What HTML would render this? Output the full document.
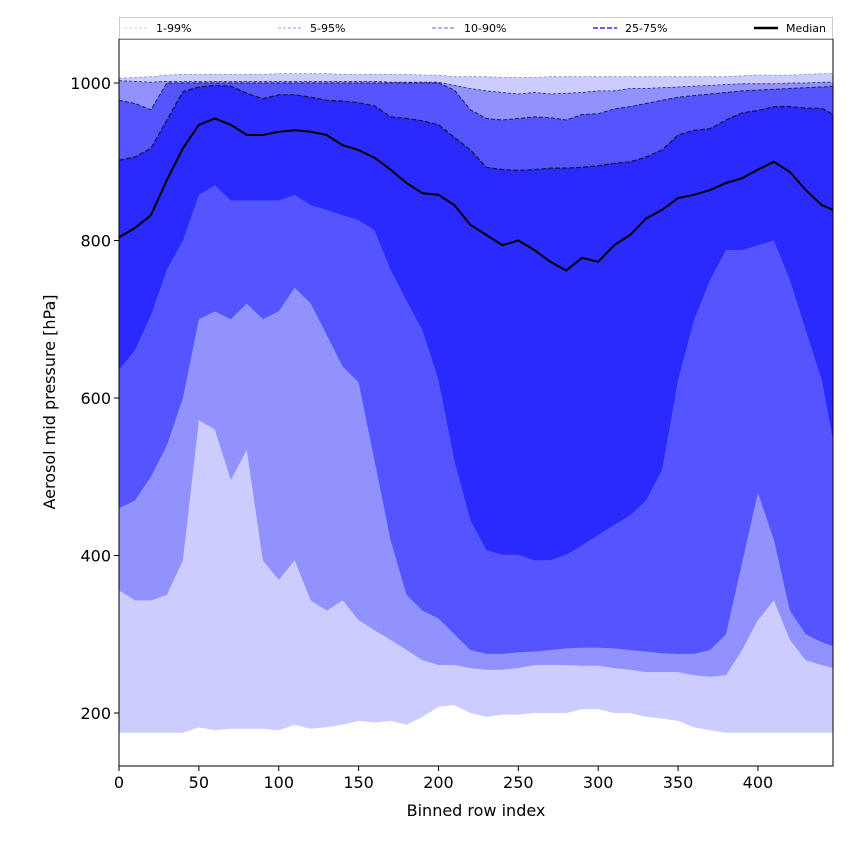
<!DOCTYPE html>
<html><head><meta charset="utf-8"><style>
html,body{margin:0;padding:0;background:#fff;}
svg{display:block;font-family:"DejaVu Sans","Liberation Sans",sans-serif;}
</style></head><body>
<svg id="chart" width="850" height="850" viewBox="0 0 850 850">
<rect width="850" height="850" fill="#fff"/>
<g id="plot"></g>
<g id="axes"></g>
</svg>
<script>
const xs = [0,10,20,30,40,50,60,70,80,90,100,110,120,130,140,150,160,170,180,190,200,210,220,230,240,250,260,270,280,290,300,310,320,330,340,350,360,370,380,390,400,410,420,430,440,447];
const p1 = [175,175,175,175,175,182,178,180,180,180,178,185,180,182,185,190,188,190,185,195,208,210,200,195,198,198,200,200,200,205,205,200,200,195,193,190,182,178,175,175,175,175,175,175,175,175];
const p5 = [356,343,343,350,394,572,560,496,534,394,369,394,343,330,343,318,305,293,280,267,261,261,257,255,255,257,261,261,261,260,260,257,255,252,252,252,248,246,248,280,318,343,293,267,261,257];
const p10 = [460,470,500,540,600,700,710,700,720,700,710,740,720,680,640,620,520,420,350,330,320,300,280,275,275,277,278,280,282,283,283,282,280,278,276,275,275,280,300,390,480,420,330,300,290,285];
const p25 = [636,661,705,763,800,858,870,851,851,851,851,858,845,839,832,826,813,763,724,686,623,521,445,407,401,401,394,394,401,413,426,439,451,470,509,623,699,750,788,788,794,800,750,686,623,547];
const median = [804,816,832,877,917,947,955,947,934,934,938,940,938,934,921,915,905,890,873,860,858,845,820,807,794,800,788,773,762,778,773,794,807,828,839,854,858,864,873,879,890,900,887,864,845,839];
const p75 = [902,906,917,953,989,995,997,996,987,980,985,985,982,978,977,975,971,957,955,952,947,931,915,893,890,889,890,892,892,893,895,898,900,906,915,934,940,942,953,962,965,970,970,968,968,960];
const p90 = [978,974,966,1000,1000,1000,1000,1000,1000,1000,1000,1000,1000,1000,1000,1000,1000,1000,1000,1000,1000,991,966,955,953,955,957,956,953,960,961,967,970,974,978,982,984,986,988,990,991,992,993,994,995,996];
const p95 = [1003,1002,1001,1002,1002,1002,1002,1002,1002,1002,1002,1002,1002,1002,1002,1002,1002,1001,1001,1001,1001,997,993,990,988,986,988,986,987,988,990,990,993,993,994,995,996,997,998,999,999,999,1000,1000,1001,1001];
const p99 = [1006,1007,1008,1010,1011,1011,1011,1011,1011,1011,1012,1012,1012,1012,1011,1011,1011,1011,1011,1010,1010,1008,1008,1008,1007,1007,1007,1008,1008,1008,1008,1008,1008,1008,1008,1008,1008,1008,1008,1009,1010,1010,1010,1011,1012,1012];
const xTicks = [0,50,100,150,200,250,300,350,400];
const yTicks = [200,400,600,800,1000];

const X0=119, X1=833, Y0=39, Y1=766;
const xMin=0, xMax=447, yMin=132.7, yMax=1055.9;
function sx(v){return X0+(v-xMin)/(xMax-xMin)*(X1-X0);}
function sy(v){return Y1-(v-yMin)/(yMax-yMin)*(Y1-Y0);}
const NS="http://www.w3.org/2000/svg";
const plot=document.getElementById('plot');
const axes=document.getElementById('axes');
function mk(tag,attrs,parent){const e=document.createElementNS(NS,tag);for(const k in attrs)e.setAttribute(k,attrs[k]);parent.appendChild(e);return e;}

const clip=mk('clipPath',{id:'clip'},plot);
mk('rect',{x:X0,y:Y0,width:X1-X0,height:Y1-Y0},clip);
const g=mk('g',{'clip-path':'url(#clip)'},plot);

function band(lo,hi,color,name){
  let d='M'+xs.map((x,i)=>sx(x).toFixed(1)+','+sy(hi[i]).toFixed(1)).join('L');
  for(let i=xs.length-1;i>=0;i--) d+='L'+sx(xs[i]).toFixed(1)+','+sy(lo[i]).toFixed(1);
  const p=mk('path',{d:d+'Z',fill:color},g);
  
  
}
function line(arr,color,w,dash,name){
  const d='M'+xs.map((x,i)=>sx(x).toFixed(1)+','+sy(arr[i]).toFixed(1)).join('L');
  const attrs={d:d,fill:'none',stroke:color,'stroke-width':w};
  if(dash)attrs['stroke-dasharray']=dash;
  const p=mk('path',attrs,g);
  
  
}
band(p1,p99,'#ccccff','band-1-99');
band(p5,p95,'#9292ff','band-5-95');
band(p10,p90,'#5555ff','band-10-90');
band(p25,p75,'#2a2aff','band-25-75');
line(p99,'#8a8ae0',0.8,'3,2','line-p99');
line(p95,'#22227a',0.8,'3,2','line-p95');
line(p90,'#1a1a60',1,'4,2','line-p90');
line(p75,'#111140',1.2,'5,2','line-p75');
line(median,'#000',2,null,'median-line');

mk('rect',{x:X0,y:Y0,width:X1-X0,height:Y1-Y0,fill:'none',stroke:'#000','stroke-width':1},axes);
xTicks.forEach(t=>{
  const x=sx(t);
  mk('line',{x1:x,x2:x,y1:Y1,y2:Y1+5,stroke:'#000'},axes);
  const tx=mk('text',{x:x,y:Y1+22,'text-anchor':'middle','font-size':16},axes);
  tx.textContent=t;
  
  
});
yTicks.forEach(t=>{
  const y=sy(t);
  mk('line',{x1:X0-5,x2:X0,y1:y,y2:y,stroke:'#000'},axes);
  const tx=mk('text',{x:X0-8,y:y+6,'text-anchor':'end','font-size':16},axes);
  tx.textContent=t;
  
  
});
const xt=mk('text',{x:(X0+X1)/2,y:816,'text-anchor':'middle','font-size':16},axes);
xt.textContent='Binned row index';


const yt=mk('text',{x:0,y:0,'text-anchor':'middle','font-size':16,transform:'translate(55,402) rotate(-90)'},axes);
yt.textContent='Aerosol mid pressure [hPa]';



// legend
const lg=mk('g',{},axes);


mk('rect',{x:119.5,y:17.5,width:713,height:21,fill:'#fff',stroke:'#ccc'},lg);
const entries=[
 {label:'1-99%',x:124,color:'#ccccff',w:1,dash:'3,2'},
 {label:'5-95%',x:278,color:'#9999ff',w:1,dash:'3,2'},
 {label:'10-90%',x:432,color:'#8080ff',w:1.3,dash:'4,2'},
 {label:'25-75%',x:593,color:'#6060ff',w:2,dash:'5,2'},
 {label:'Median',x:754,color:'#000',w:2.5,dash:null}
];
entries.forEach(e=>{
  const a={x1:e.x,x2:e.x+24,y1:28,y2:28,stroke:e.color,'stroke-width':e.w};
  if(e.dash)a['stroke-dasharray']=e.dash;
  mk('line',a,lg);
  const t=mk('text',{x:e.x+32,y:32,'font-size':11},lg);
  t.textContent=e.label;
  
  
});
</script>
</body></html>
